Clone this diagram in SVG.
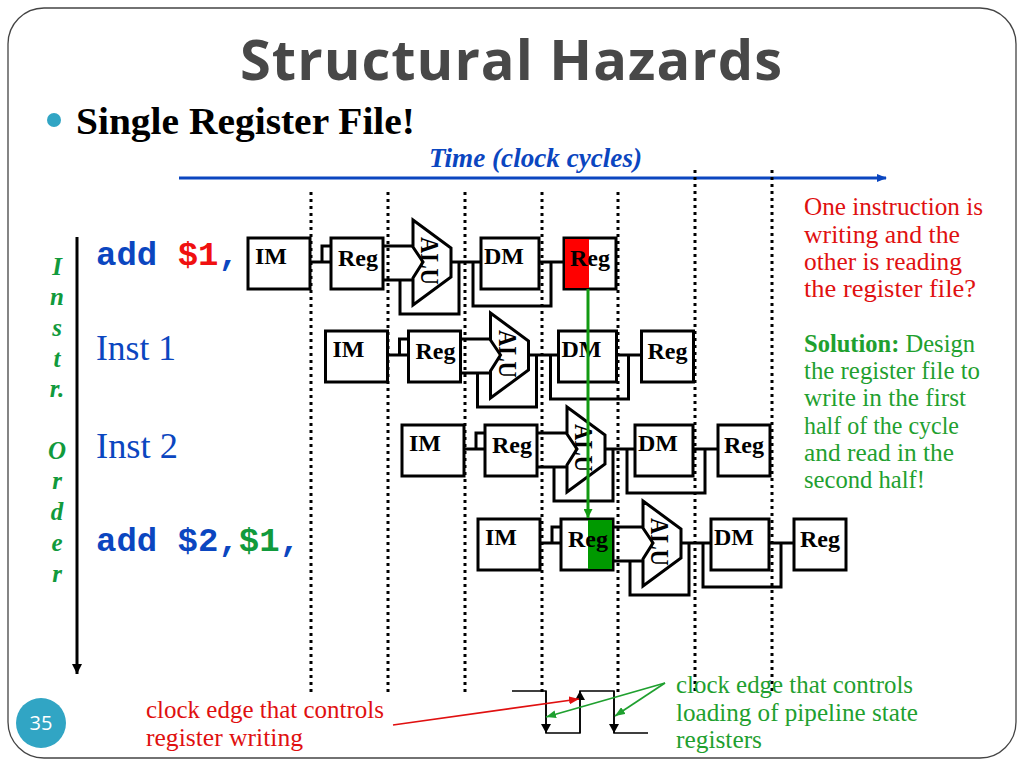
<svg xmlns="http://www.w3.org/2000/svg" xmlns:xlink="http://www.w3.org/1999/xlink" width="1024" height="768" viewBox="0 0 1024 768">
<style>
text{font-family:"Liberation Serif",serif}
.u{fill:none;stroke:#000;stroke-width:3}
.b{fill:#fff;stroke:#000;stroke-width:3}
.l{font-size:24px;font-weight:bold;fill:#000}
.a{font-size:25px;font-weight:bold;fill:#000}
.d{stroke:#000;stroke-width:3;stroke-dasharray:3 4;fill:none}
.r{fill:#e01010;font-size:25px}
.g{fill:#1fa02f;font-size:25px}
.o{font-size:25px;font-style:italic;font-weight:bold;fill:#119a3c;text-anchor:middle}
.m{font-family:"Liberation Mono",monospace;font-size:34px;font-weight:bold}
.in{font-size:35px;fill:#0b46c0}
</style>
<defs>
<marker id="ag" markerWidth="9" markerHeight="9" refX="9" refY="4.500" orient="auto" markerUnits="userSpaceOnUse"><path d="M0 0L9 4.500L0 9z" fill="#129a12"/></marker>
<marker id="agl" markerWidth="10" markerHeight="8" refX="10" refY="4" orient="auto" markerUnits="userSpaceOnUse"><path d="M0 0L10 4L0 8z" fill="#1fa02f"/></marker>
<marker id="ar" markerWidth="10" markerHeight="8" refX="10" refY="4" orient="auto" markerUnits="userSpaceOnUse"><path d="M0 0L10 4L0 8z" fill="#e01010"/></marker>
<marker id="ak" markerWidth="10" markerHeight="10" refX="10" refY="5" orient="auto" markerUnits="userSpaceOnUse"><path d="M0 0L10 5L0 10z" fill="#000"/></marker>
<marker id="ac" markerWidth="9" markerHeight="10" refX="9" refY="5" orient="auto" markerUnits="userSpaceOnUse"><path d="M0 0L9 5L0 10z" fill="#000"/></marker>
<marker id="ab" markerWidth="10" markerHeight="8" refX="9" refY="4" orient="auto" markerUnits="userSpaceOnUse"><path d="M0 0L10 4L0 8z" fill="#0b46c0"/></marker>
<g id="stage">
<path class="u" d="M62 24H83M74 24V8H83M135 8H165M135 42H165M152 42V76H211V25M204 24H233M225 25V68H303V25M292 24H317"/>
<rect class="b" x="0" y="0" width="62" height="51"/>
<rect class="b" x="83" y="0" width="52" height="51"/>
<path class="b" d="M165 -18L203 10V39L165 67V40L175 24L165 9Z"/>
<rect class="b" x="233" y="0" width="58" height="51"/>
<rect class="b" x="316" y="0" width="52" height="51"/>
</g>
<g id="labels">
<text class="l" x="7" y="26">IM</text>
<text class="l" x="90" y="28">Reg</text>
<text class="a" transform="translate(173 -1) rotate(90)" textLength="48" lengthAdjust="spacingAndGlyphs">ALU</text>
<text class="l" x="236" y="26">DM</text>
<text class="l" x="322" y="28">Reg</text>
</g>
</defs>
<rect width="1024" height="768" fill="#fff"/>
<rect x="8" y="8" width="1008" height="750" rx="36" fill="#fff" stroke="#444" stroke-width="1.3"/>
<text x="240" y="80" style="font-family:'Open Sans',sans-serif;font-weight:700;font-size:56px" fill="#484848" textLength="542">Structural Hazards</text>
<circle cx="54" cy="120" r="7" fill="#31a5c4"/>
<text x="76" y="134" font-size="37" font-weight="bold" textLength="339" lengthAdjust="spacingAndGlyphs">Single Register File!</text>
<text x="429" y="167" font-size="27" font-style="italic" font-weight="bold" fill="#0b46c0" textLength="213" lengthAdjust="spacingAndGlyphs">Time (clock cycles)</text>
<g id="connectors">
<path d="M179 178H886" stroke="#0b46c0" stroke-width="3" marker-end="url(#ab)"/>
<path d="M77 237V674" stroke="#000" stroke-width="3" marker-end="url(#ak)"/>
<path class="d" d="M311 192V692M388 192V692M465 192V692M542 192V692M618 192V692M695 170V692M772 170V692"/>
</g>
<g id="inst1"><use xlink:href="#stage" x="248" y="238"/></g>
<g id="inst2"><use xlink:href="#stage" x="325.500" y="331"/></g>
<g id="inst3"><use xlink:href="#stage" x="402" y="425"/></g>
<g id="inst4"><use xlink:href="#stage" x="478" y="519"/></g>
<rect x="565" y="239" width="24" height="49" fill="#f00"/>
<rect x="588" y="520" width="24" height="49" fill="#090"/>
<g id="lab1"><use xlink:href="#labels" x="248" y="238"/></g>
<g id="lab2"><use xlink:href="#labels" x="325.500" y="331"/></g>
<g id="lab3"><use xlink:href="#labels" x="402" y="425"/></g>
<g id="lab4"><use xlink:href="#labels" x="478" y="519"/></g>
<path d="M588 289V518" stroke="#129a12" stroke-width="3" fill="none" marker-end="url(#ag)"/>
<text class="m" x="96" y="265" fill="#0b46c0">add <tspan fill="#f01010">$1</tspan>,</text>
<text class="m" x="96" y="551" fill="#0b46c0">add $2,<tspan fill="#119a3c">$1</tspan>,</text>
<text class="in" x="96" y="360" textLength="80" lengthAdjust="spacingAndGlyphs">Inst 1</text>
<text class="in" x="96" y="458" textLength="82" lengthAdjust="spacingAndGlyphs">Inst 2</text>
<g>
<text class="o" x="57" y="275">I</text><text class="o" x="57" y="305">n</text><text class="o" x="57" y="336">s</text><text class="o" x="57" y="367">t</text><text class="o" x="57" y="397">r.</text>
<text class="o" x="57" y="459">O</text><text class="o" x="57" y="489">r</text><text class="o" x="57" y="520">d</text><text class="o" x="57" y="551">e</text><text class="o" x="57" y="582">r</text>
</g>
<text class="r" x="804" y="215" textLength="179" lengthAdjust="spacingAndGlyphs">One instruction is</text>
<text class="r" x="804" y="243" textLength="156" lengthAdjust="spacingAndGlyphs">writing and the</text>
<text class="r" x="804" y="270" textLength="158" lengthAdjust="spacingAndGlyphs">other is reading</text>
<text class="r" x="804" y="297" textLength="172" lengthAdjust="spacingAndGlyphs">the register file?</text>
<text class="g" x="804" y="352" textLength="171" lengthAdjust="spacingAndGlyphs"><tspan font-weight="bold">Solution:</tspan> Design</text>
<text class="g" x="804" y="379" textLength="176" lengthAdjust="spacingAndGlyphs">the register file to</text>
<text class="g" x="804" y="406" textLength="162" lengthAdjust="spacingAndGlyphs">write in the first</text>
<text class="g" x="804" y="434" textLength="155" lengthAdjust="spacingAndGlyphs">half of the cycle</text>
<text class="g" x="804" y="461" textLength="150" lengthAdjust="spacingAndGlyphs">and read in the</text>
<text class="g" x="804" y="488" textLength="121" lengthAdjust="spacingAndGlyphs">second half!</text>
<circle cx="41" cy="723" r="25" fill="#31a5c4"/>
<text x="41" y="730" text-anchor="middle" fill="#fff" font-size="20" style="font-family:'Open Sans',sans-serif">35</text>
<text class="r" x="146" y="718" textLength="238" lengthAdjust="spacingAndGlyphs">clock edge that controls</text>
<text class="r" x="146" y="746" textLength="157" lengthAdjust="spacingAndGlyphs">register writing</text>
<text class="g" x="676" y="693" textLength="237" lengthAdjust="spacingAndGlyphs">clock edge that controls</text>
<text class="g" x="676" y="721" textLength="242" lengthAdjust="spacingAndGlyphs">loading of pipeline state</text>
<text class="g" x="676" y="748" textLength="86" lengthAdjust="spacingAndGlyphs">registers</text>
<g id="clock" fill="none" stroke="#000" stroke-width="1.5">
<path d="M512 691H546V733H580V691H614V733H648"/>
<path d="M546 691V733" marker-end="url(#ac)"/>
<path d="M580 733V691" marker-end="url(#ac)"/>
<path d="M614 691V733" marker-end="url(#ac)"/>
</g>
<path d="M393 725L579 699" stroke="#e01010" stroke-width="1.7" fill="none" marker-end="url(#ar)"/>
<path d="M665 683L546 717" stroke="#1fa02f" stroke-width="1.7" fill="none" marker-end="url(#agl)"/>
<path d="M665 683L615 716" stroke="#1fa02f" stroke-width="1.7" fill="none" marker-end="url(#agl)"/>
</svg>
